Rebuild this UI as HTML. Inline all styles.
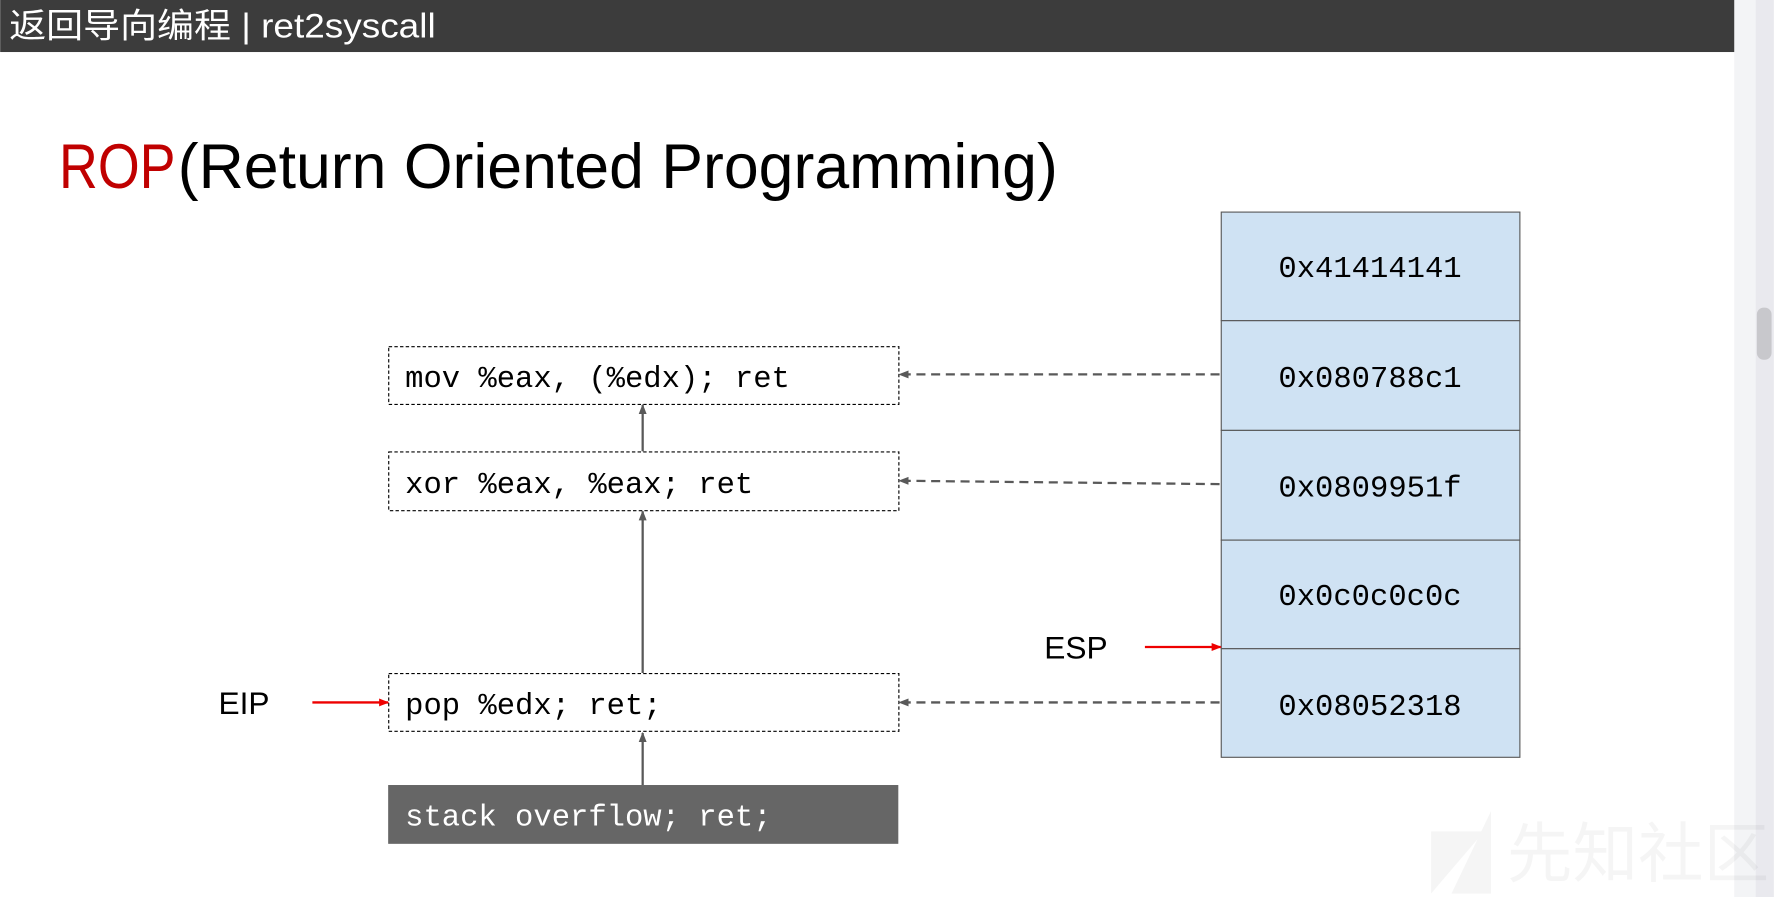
<!DOCTYPE html>
<html><head><meta charset="utf-8"><style>
html,body{margin:0;padding:0;background:#fff;overflow:hidden}
svg{display:block}
</style></head><body>
<svg width="1774" height="897" viewBox="0 0 1568 793" xmlns="http://www.w3.org/2000/svg">
<defs>
<marker id="ag" markerWidth="9" markerHeight="9" refX="8" refY="4.5" orient="auto" markerUnits="userSpaceOnUse"><path d="M0,1 L9,4.5 L0,8 z" fill="#595959"/></marker>
<marker id="ar" markerWidth="9" markerHeight="9" refX="8" refY="4.5" orient="auto" markerUnits="userSpaceOnUse"><path d="M0,1 L9,4.5 L0,8 z" fill="#e00"/></marker>
</defs>
<rect x="0" y="0" width="1568" height="793" fill="#fff"/>
<rect x="0" y="0" width="1535" height="46" fill="#3c3c3c"/>
<rect x="1533" y="0" width="35" height="793" fill="#f3f4f6"/>
<rect x="1552" y="0" width="16" height="793" fill="#e9e9ee"/>
<rect x="1553" y="272" width="13" height="46" rx="6" fill="#c8c8cc"/>
<text x="8" y="33" font-family="'Liberation Sans','Noto Sans CJK SC',sans-serif" font-size="30" fill="#fff" textLength="377" lengthAdjust="spacingAndGlyphs">返回导向编程 | ret2syscall</text>
<text x="52" y="166" font-family="'Liberation Sans',sans-serif" font-size="56" fill="#c00000" textLength="103" lengthAdjust="spacingAndGlyphs">ROP</text>
<text x="157" y="166" font-family="'Liberation Sans',sans-serif" font-size="56" fill="#000" textLength="778" lengthAdjust="spacingAndGlyphs">(Return Oriented Programming)</text>
<g fill="#cfe2f3" stroke="#595959" stroke-width="1">
<rect x="1079.5" y="187.5" width="264" height="96"/>
<rect x="1079.5" y="283.5" width="264" height="97"/>
<rect x="1079.5" y="380.5" width="264" height="97"/>
<rect x="1079.5" y="477.5" width="264" height="96"/>
<rect x="1079.5" y="573.5" width="264" height="96"/>
</g>
<g font-family="'Liberation Mono','DejaVu Sans Mono',monospace" font-size="27" fill="#000" text-anchor="middle">
<text x="1211" y="245">0x41414141</text>
<text x="1211" y="342">0x080788c1</text>
<text x="1211" y="439">0x0809951f</text>
<text x="1211" y="535">0x0c0c0c0c</text>
<text x="1211" y="632">0x08052318</text>
</g>
<g fill="none" stroke="#000" stroke-width="1" stroke-dasharray="3,2">
<rect x="343.5" y="306.5" width="451" height="51"/>
<rect x="343.5" y="399.5" width="451" height="52"/>
<rect x="343.5" y="595.5" width="451" height="51"/>
</g>
<rect x="343" y="694" width="451" height="52" fill="#666666"/>
<g font-family="'Liberation Mono','DejaVu Sans Mono',monospace" font-size="27">
<text x="358" y="342" fill="#000">mov %eax, (%edx); ret</text>
<text x="358" y="436" fill="#000">xor %eax, %eax; ret</text>
<text x="358" y="631" fill="#000">pop %edx; ret;</text>
<text x="358" y="730" fill="#fff">stack overflow; ret;</text>
</g>
<g stroke="#595959" stroke-width="2" marker-end="url(#ag)">
<line x1="568" y1="694" x2="568" y2="648"/>
<line x1="568" y1="595" x2="568" y2="452"/>
<line x1="568" y1="399" x2="568" y2="358"/>
</g>
<g stroke="#595959" stroke-width="2" stroke-dasharray="8,5" marker-end="url(#ag)">
<line x1="1078" y1="331" x2="795" y2="331"/>
<line x1="1078" y1="428" x2="795" y2="425"/>
<line x1="1078" y1="621" x2="795" y2="621"/>
</g>
<g stroke="#e00" stroke-width="2" marker-end="url(#ar)">
<line x1="1012" y1="572" x2="1079" y2="572"/>
<line x1="276" y1="621" x2="343" y2="621"/>
</g>
<g font-family="'Liberation Sans',sans-serif" font-size="28" fill="#000">
<text x="923" y="582">ESP</text>
<text x="193" y="631">EIP</text>
</g>
<g opacity="0.035">
<path d="M1265,790 L1265,735 L1312,735 Z M1283,790 L1318,717 L1318,790 Z" fill="#000"/>
<text x="1332" y="775" font-family="'Noto Sans CJK SC',sans-serif" font-size="58" fill="#000">先知社区</text>
</g>
</svg>
</body></html>
